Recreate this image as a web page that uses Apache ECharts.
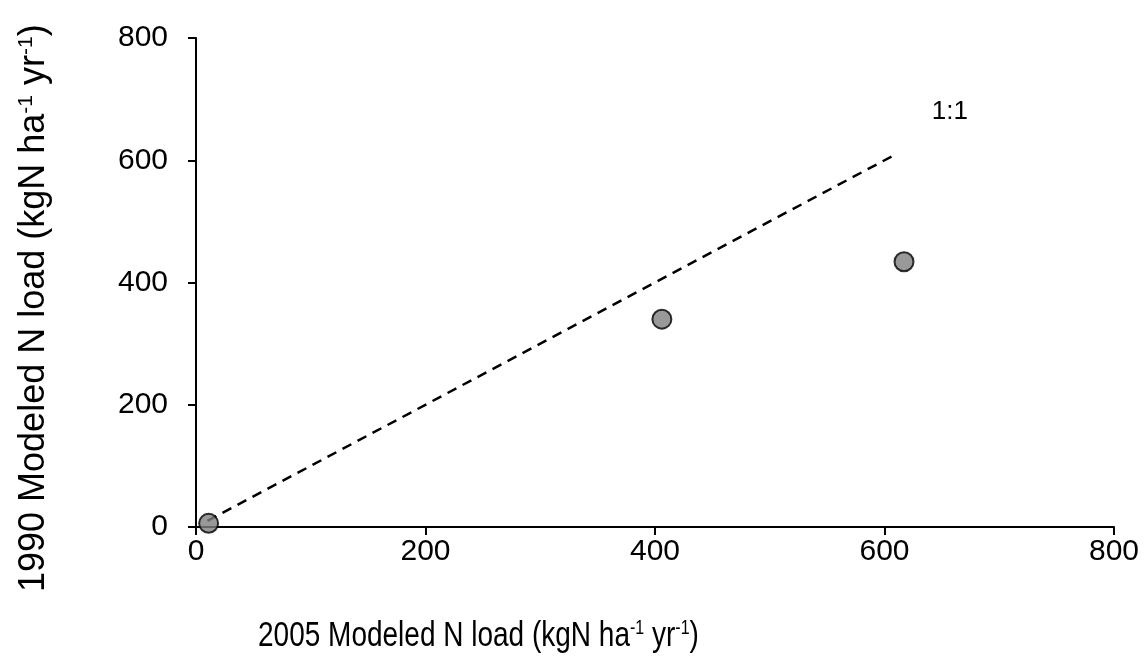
<!DOCTYPE html>
<html>
<head>
<meta charset="utf-8">
<script src="https://cdn.jsdelivr.net/npm/echarts@6/dist/echarts.min.js"></script>
<style>
  html, body { margin: 0; padding: 0; background: #fff; }
  #chart { width: 1147px; height: 670px; }
</style>
</head>
<body>
<div id="chart"></div>
<script>
// 2005 vs 1990 modeled N load (kgN ha-1 yr-1)
const load2005 = [11, 406, 617];
const load1990 = [6, 340, 434];
const oneToOne = [[10, 10], [610, 610]];
const xTicks = [0, 200, 400, 600, 800];
const yTicks = [0, 200, 400, 600, 800];

const font = "'Liberation Sans', Arial, sans-serif";

const chart = echarts.init(document.getElementById("chart"));

const axisBase = {
  type: "value",
  min: xTicks[0],
  max: xTicks[xTicks.length - 1],
  interval: 200,
  splitLine: { show: false },
  axisLine: { show: true, onZero: false, lineStyle: { color: "#000", width: 2 } },
  axisTick: { show: true, inside: false, length: 8, lineStyle: { color: "#000", width: 2 } },
  axisLabel: { color: "#000", fontSize: 30, fontFamily: font }
};

const sup = (size, pad) => ({
  sup: { fontSize: size, verticalAlign: "top", padding: [0, 0, pad, 0], fontFamily: font, fill: "#000", color: "#000" }
});

const option = {
  animation: false,
  backgroundColor: "#fff",
  grid: { left: 196, right: 33, top: 38, bottom: 143 },
  xAxis: Object.assign({}, axisBase, {
    axisLabel: Object.assign({}, axisBase.axisLabel, { margin: 10 })
  }),
  yAxis: Object.assign({}, axisBase, {
    min: yTicks[0],
    max: yTicks[yTicks.length - 1],
    axisLabel: Object.assign({}, axisBase.axisLabel, { margin: 28 })
  }),
  graphic: [
    {
      type: "text",
      x: 258,
      y: 618,
      scaleY: 1.28,
      style: {
        text: "2005 Modeled N load (kgN ha{sup|-1} yr{sup|-1})",
        font: "28px " + font,
        fill: "#000",
        rich: sup(16, 12)
      }
    },
    {
      type: "text",
      x: 16,
      y: 592,
      rotation: Math.PI / 2,
      style: {
        text: "1990 Modeled N load (kgN ha{sup|-1} yr{sup|-1})",
        font: "36px " + font,
        fill: "#000",
        rich: sup(21, 15)
      }
    }
  ],
  series: [
    {
      type: "line",
      data: oneToOne,
      symbol: "none",
      lineStyle: { color: "#000", width: 2.5, type: [10, 7] },
      z: 1,
      markPoint: {
        symbol: "circle",
        symbolSize: 0,
        data: [{ coord: [657, 679], value: "1:1" }],
        label: {
          show: true,
          formatter: "1:1",
          color: "#000",
          fontSize: 26,
          fontFamily: font
        }
      }
    },
    {
      type: "scatter",
      data: load2005.map((x, i) => [x, load1990[i]]),
      symbol: "circle",
      symbolSize: 19,
      itemStyle: { color: "#808080", borderColor: "#000", borderWidth: 2 },
      z: 3
    }
  ]
};

chart.setOption(option);
</script>
</body>
</html>
